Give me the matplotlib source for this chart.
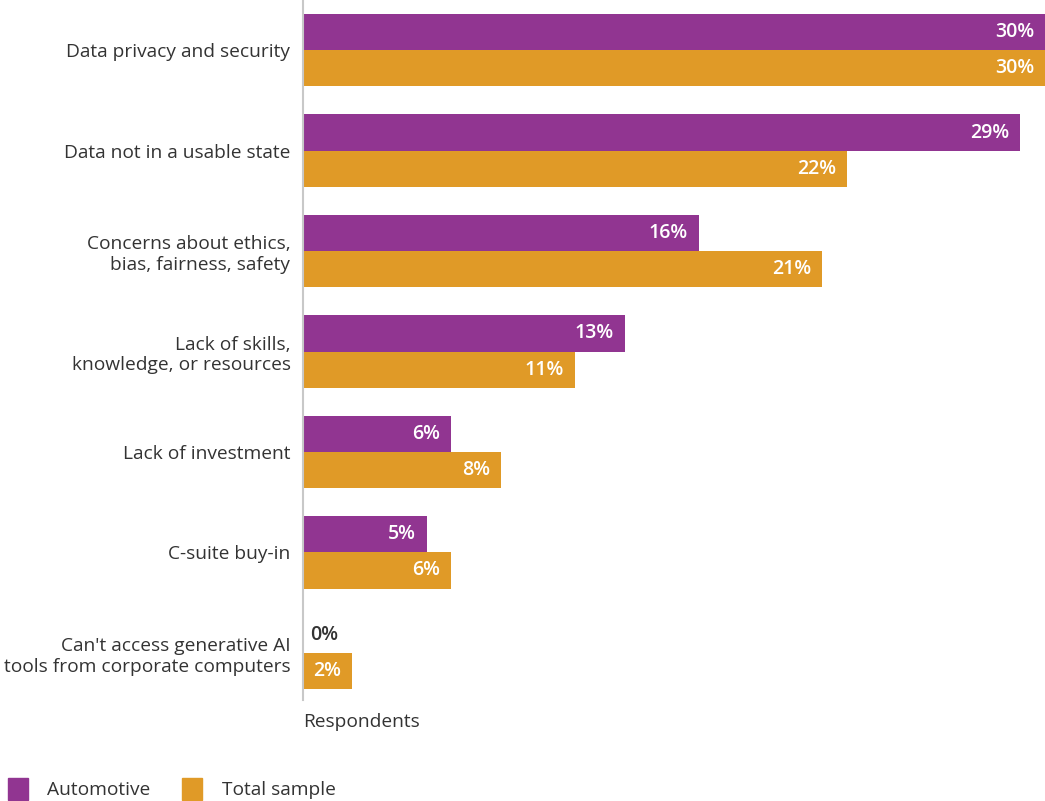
import matplotlib.pyplot as plt
from matplotlib.patches import Rectangle

plt.rcParams['font.family'] = ['Open Sans', 'DejaVu Sans']

categories = ['Data privacy and security', 'Data not in a usable state',
              'Concerns about ethics,\nbias, fairness, safety',
              'Lack of skills,\nknowledge, or resources', 'Lack of investment',
              'C-suite buy-in',
              "Can't access generative AI\ntools from corporate computers"]
automotive = [30, 29, 16, 13, 6, 5, 0]
total_sample = [30, 22, 21, 11, 8, 6, 2]

purple = '#913591'
orange = '#e09a27'
fs = 13.8

fig = plt.figure(figsize=(10.45, 8.01), dpi=100)
ax = fig.add_axes([303 / 1045, 1 - 700 / 801, 742 / 1045, 700 / 801])

h = 0.36
y = list(range(len(categories)))
ax.barh([i - h / 2 for i in y], automotive, height=h, color=purple)
ax.barh([i + h / 2 for i in y], total_sample, height=h, color=orange)

for i in y:
    for v, off in ((automotive[i], -h / 2), (total_sample[i], h / 2)):
        if v > 0:
            ax.text(v - 0.45, i + off, f'{v}%', ha='right', va='center',
                    color='white', fontsize=14, fontweight='semibold')
        else:
            ax.text(0.3, i + off, f'{v}%', ha='left', va='center',
                    color='#333333', fontsize=14, fontweight='semibold')

ax.set_xlim(0, 30)
ax.set_ylim(6.47, -0.5)
ax.set_yticks(y)
ax.set_yticklabels(categories, fontsize=fs, color='#333333', linespacing=1.2)
ax.tick_params(axis='y', length=0, pad=9)
ax.set_xticks([])
for s in ['top', 'right', 'bottom']:
    ax.spines[s].set_visible(False)
ax.spines['left'].set_color('#c8c8c8')
ax.spines['left'].set_linewidth(1.5)

fig.text(303 / 1045, 1 - 722 / 801, 'Respondents', fontsize=fs,
         color='#333333', ha='left', va='center')

# legend
for x0, col, lab, tx in ((8, purple, 'Automotive', 47), (182, orange, 'Total sample', 222)):
    fig.patches.append(Rectangle((x0 / 1045, 1 - 800 / 801), 20 / 1045, 22 / 801,
                                 transform=fig.transFigure, color=col))
    fig.text(tx / 1045, 1 - 790 / 801, lab, fontsize=fs, color='#333333',
             ha='left', va='center')

plt.savefig('out.png', dpi=100)
